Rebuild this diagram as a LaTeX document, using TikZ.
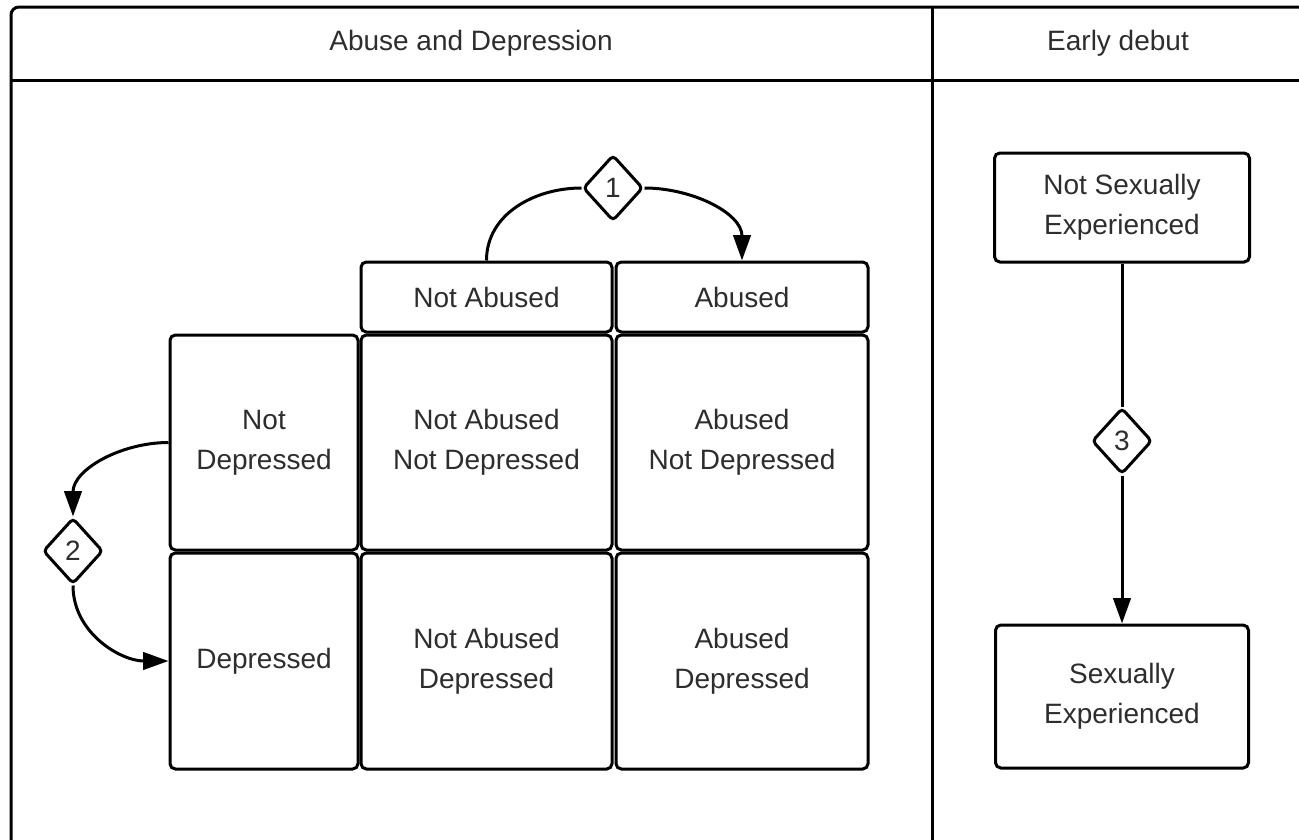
\documentclass[tikz,border=0pt]{standalone}
\usepackage{fontspec}
\setmainfont{Liberation Sans}
\usepackage{xcolor}
\usetikzlibrary{shapes.geometric,arrows.meta}
\definecolor{txtgray}{RGB}{45,45,45}

\begin{document}
\begin{tikzpicture}[x=0.75pt,y=0.75pt,yscale=-1,xscale=1,
  every node/.style={font=\fontsize{21}{30}\selectfont, text=txtgray},
  cell/.style={draw, line width=2.25, rounded corners=4pt, align=center, inner sep=0.75pt},
  gate/.style={draw, diamond, line width=2.25, rounded corners=3pt, inner sep=0pt, minimum width=45pt, minimum height=49.5pt, fill=white},
  link/.style={line width=2.25},
  flow/.style={line width=2.25, -{Triangle[length=19pt,width=13pt]}}]
  \useasboundingbox (0,0) rectangle (1299,839);
  %note: yscale=-1, so 270 points up on the page and 90 points down

  %Shape: Frame
  \draw [line width=2.25, rounded corners=6pt] (11,7) rectangle (1312,852);
  \draw [line width=2.25] (11,80) -- (1312,80);
  \draw [line width=2.25] (932,7) -- (932,852);

  % Text Node
  \node (hdrAD) at (471,43) {Abuse and Depression};
  % Text Node
  \node (hdrED) at (1118,43) {Early debut};

  %Shape: column heads
  \node [cell, minimum width=188.25pt, minimum height=52.5pt] (notAbused) at (486.5,297) {Not Abused};
  \node [cell, minimum width=189pt, minimum height=52.5pt] (abused) at (742,297) {Abused};
  %Shape: row heads
  \node [cell, minimum width=141pt, minimum height=161.25pt] (notDep) at (264,442.5) {Not\\Depressed};
  \node [cell, minimum width=141pt, minimum height=162pt] (dep) at (264,661) {Depressed};
  %Shape: grid
  \node [cell, minimum width=188.25pt, minimum height=161.25pt] (nAnD) at (486.5,442.5) {Not Abused\\Not Depressed};
  \node [cell, minimum width=189pt, minimum height=161.25pt] (aNd) at (742,442.5) {Abused\\Not Depressed};
  \node [cell, minimum width=188.25pt, minimum height=162pt] (nAD) at (486.5,661) {Not Abused\\Depressed};
  \node [cell, minimum width=189pt, minimum height=162pt] (aD) at (742,661) {Abused\\Depressed};

  %Shape: debut boxes
  \node [cell, minimum width=191.25pt, minimum height=81.75pt] (notSex) at (1122,207.5) {Not Sexually\\Experienced};
  \node [cell, minimum width=189.75pt, minimum height=107.25pt] (sex) at (1122,696.5) {Sexually\\Experienced};

  %Shape: Diamonds
  \node [gate] (g1) at (613,188) {1};
  \node [gate] (g2) at (73,551) {2};
  \node [gate] (g3) at (1122,441) {3};

  %Curve Lines
  \draw [link] (notAbused.north) to[out=270,in=180] (g1.west);
  \draw [flow] (g1.east) to[out=0,in=270] (abused.north);
  \draw [flow] (notDep.west) to[out=180,in=270] (g2.north);
  \draw [flow] (g2.south) to[out=90,in=180] (dep.west);
  %Straight Lines
  \draw [link] (notSex.south) -- (g3.north);
  \draw [flow] (g3.south) -- (sex.north);
\end{tikzpicture}
\end{document}
